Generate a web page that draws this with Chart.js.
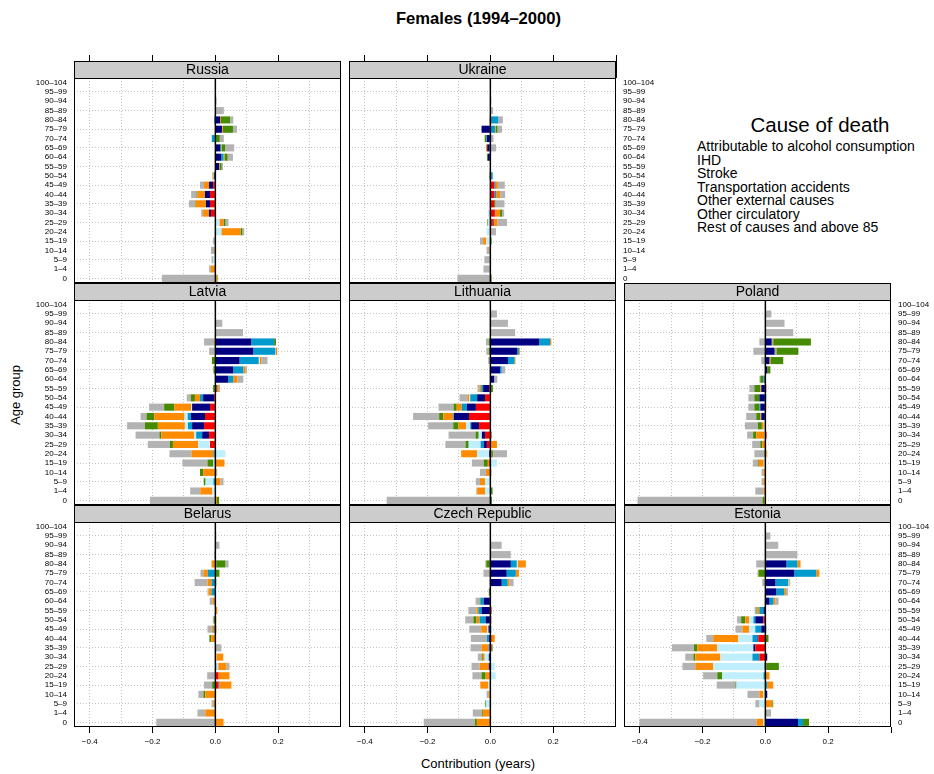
<!DOCTYPE html>
<html>
<head>
<meta charset="utf-8">
<script src="https://cdn.jsdelivr.net/npm/chart.js@4.4.1/dist/chart.umd.min.js"></script>
<style>
html,body{margin:0;padding:0;background:#fff;}
#page{position:relative;width:934px;height:774px;overflow:hidden;font-family:"Liberation Sans",Arial,Helvetica,sans-serif;color:#000;}
#page canvas{position:absolute;}
.txt{position:absolute;white-space:nowrap;line-height:1;}
</style>
</head>
<body>
<div id="page">
<div class="txt" style="left:0;width:957px;top:11px;text-align:center;font-weight:bold;font-size:16.6px;">Females (1994–2000)</div>
<div class="txt" style="left:700px;width:240px;top:115px;text-align:center;font-size:20.5px;">Cause of death</div>
<div class="txt" id="legendItems" style="left:697px;top:140px;font-size:14px;line-height:13.55px;"></div>
<div class="txt" style="left:15px;top:395px;font-size:13px;transform:translate(-50%,-50%) rotate(-90deg);">Age group</div>
<div class="txt" style="left:478px;top:763px;font-size:13px;transform:translate(-50%,-50%);">Contribution (years)</div>
</div>
<script>
// ---------------- DATA ----------------
const ageGroups = ["0","1–4","5–9","10–14","15–19","20–24","25–29","30–34","35–39","40–44","45–49","50–54","55–59","60–64","65–69","70–74","75–79","80–84","85–89","90–94","95–99","100–104"];
const causeNames = ["Attributable to alcohol consumption","IHD","Stroke","Transportation accidents","Other external causes","Other circulatory","Rest of causes and above 85"];
const causeColors = ["#FF0000","#000080","#009ACD","#BFEFFF","#FF8C00","#458B00","#B3B3B3"];
const countryNames = ["Russia","Ukraine","Latvia","Lithuania","Poland","Belarus","Czech Republic","Estonia"];
const xTickLabels = [-0.4,-0.2,0,0.2];

// Russia
const rus_alc  = [0,0,0,0,0,0,0,-0.014,-0.017,-0.017,-0.007,0,0,0,0,0,0,0,0,0,0,0];
const rus_ihd  = [0,0,0,0,0,0,0,-0.006,-0.013,-0.016,-0.013,-0.004,0.012,0.018,0.015,0,0.021,0.015,0,0,0,0];
const rus_str  = [0,0,0,0,0,0,0,0,0,0,0,0,0,0.008,0.003,-0.011,0,-0.004,0,0,0,0];
const rus_tra  = [0,0,-0.006,0,0,0.019,0.013,0,0,0,0,0,0,0,0,-0.002,0,0,0,0,0,0];
const rus_ext  = [0.005,-0.014,0,-0.004,0,0.061,0.013,-0.019,-0.033,-0.024,-0.016,-0.002,0.002,0.003,0.002,0,0.003,0.003,0,0,0,0];
const rus_circ = [0.002,0,0,0,0,0.006,0.006,0,-0.002,-0.003,0,0,0.006,0.010,0.011,0.014,0.032,0.029,0,0,0,0];
const rus_rest = [-0.170,-0.006,-0.006,-0.010,-0.007,0.006,0.010,-0.006,-0.019,-0.017,-0.013,-0.004,0.004,0.017,0.029,0.013,0.013,0.010,0.027,0.004,0,0];
// Ukraine
const ukr_alc  = [0,0,0,0,0,0,0.008,0.013,0.012,0.013,0.013,0,0,0,-0.002,0,0,0,0,0,0,0];
const ukr_ihd  = [0,0,0.001,0,0.002,0,0.002,0.002,0,0,0,0,0,-0.008,-0.008,-0.011,-0.028,0,0,0,0,0];
const ukr_str  = [0,0,0,0,0,0,0,0,0,0.006,0.004,0.007,0,0,0,-0.002,0.015,0.025,0,0,0,0];
const ukr_tra  = [0,0,0,0,-0.013,-0.012,-0.008,-0.008,-0.004,0,0,0,0,0,0,0,0,0,0,0,0,0];
const ukr_ext  = [0.002,0,0,-0.004,-0.010,0.004,0.012,0.016,0,0.012,0.007,0,0,0,-0.004,0,0.002,-0.003,0,0,0,0];
const ukr_circ = [0.002,0,0,0,0.002,0,-0.002,0.006,0.004,0,0,-0.003,0,-0.003,0,-0.005,0.006,0,0,0,0,0];
const ukr_rest = [-0.105,-0.022,-0.019,-0.008,-0.010,0.014,0.031,0.007,0.029,0.016,0.022,0.002,0,0,0.018,0.010,0.014,0.015,0.008,0.003,0,0];
// Latvia
const lva_alc  = [0,0,0,0,0,-0.002,-0.017,-0.020,-0.036,-0.033,-0.017,-0.004,0,0,0,0,0,0,0,0,0,0];
const lva_ihd  = [0,0,0,0,0,0,0,-0.022,-0.038,-0.045,-0.057,-0.035,0.004,0.041,0.057,0.077,0.121,0.114,0,0,0,0];
const lva_str  = [0,0,-0.006,0,0,-0.004,0,-0.019,-0.013,-0.010,0,-0.010,0,0.016,0.032,0.061,0.070,0.073,0,0,0,0];
const lva_tra  = [0,-0.010,-0.025,0.002,-0.006,0.032,-0.038,-0.006,-0.010,-0.010,-0.003,0,0,0,0,0.003,0.002,0,0,0,0,0];
const lva_ext  = [0.005,-0.038,0.016,-0.039,0.029,-0.070,-0.080,-0.105,-0.086,-0.096,-0.054,-0.016,0.007,0.013,0.006,0.006,0.004,-0.004,0,0,0,0];
const lva_circ = [0.007,0,-0.006,-0.010,-0.019,0,-0.010,-0.006,-0.041,-0.025,-0.032,-0.013,-0.007,0,-0.006,-0.011,0,0.006,0,0,0,0];
const lva_rest = [-0.208,-0.032,0.010,0.004,-0.080,-0.070,-0.070,-0.076,-0.057,-0.019,-0.048,-0.013,0.004,0.019,0.006,0.019,-0.020,-0.032,0.088,0.022,0,0];
// Lithuania
const ltu_alc  = [0,0,0,0,-0.004,0.003,-0.011,-0.017,-0.036,-0.068,-0.046,-0.017,-0.004,0,0,0,0,0,0,0,0,0];
const ltu_ihd  = [0,0,0,0,0,-0.004,-0.010,-0.010,-0.025,-0.048,-0.029,-0.025,-0.019,0.012,0.031,0.056,0.085,0.155,0,0,0,0];
const ltu_str  = [0,0,0,0,0,0,-0.010,0,-0.003,-0.002,-0.016,-0.022,-0.006,0,0.005,0.021,0.006,0.035,0,0,0,0];
const ltu_tra  = [0,-0.017,-0.017,0,0.021,-0.038,-0.038,-0.010,-0.013,0.004,0,-0.003,0,0,0,0,0,0,0,0,0,0];
const ltu_ext  = [0,-0.025,-0.016,-0.014,-0.004,-0.051,0.021,0.005,-0.025,-0.032,-0.016,-0.006,-0.006,0,0,0.003,0.003,0.004,0,0,0,0];
const ltu_circ = [0.005,0.007,0,0.003,-0.013,0.005,-0.010,-0.010,-0.016,-0.013,-0.010,0,0.008,0,-0.002,0,-0.005,-0.005,0,0,0,0];
const ltu_rest = [-0.330,-0.003,-0.013,-0.019,-0.038,0.045,-0.064,-0.086,-0.080,-0.083,-0.048,-0.025,-0.006,0.010,0.011,-0.007,-0.008,-0.009,0.079,0.056,0.021,0];
// Poland
const pol_alc  = [0,0,0,0,0,0,0,0.004,0,0,0,0,0.003,0,0,0,0,0,0,0,0,0];
const pol_ihd  = [0,0,0,0,0,0,0,0,0,-0.013,-0.016,-0.019,-0.013,-0.003,0.006,0.013,0.029,0.020,0,0,0,0];
const pol_str  = [0,0,0,0,0,0,0,0,0,0,-0.003,0.003,0,-0.003,0,0,0.003,0.002,0,0,0,0];
const pol_tra  = [0,0,0,0,-0.005,0.003,0.003,-0.003,-0.005,0,0,0,0,0,0,0,0,0,0,0,0,0];
const pol_ext  = [-0.003,-0.006,-0.006,-0.006,-0.016,0.003,-0.010,-0.026,-0.006,-0.003,0.003,0,-0.003,0,0,0.003,0.003,0.003,0,0,0,0];
const pol_circ = [-0.006,0,0,0,-0.003,-0.003,-0.006,-0.010,-0.013,-0.013,-0.016,-0.016,-0.019,-0.010,0.010,0.041,0.070,0.120,0,0,0,0];
const pol_rest = [-0.398,-0.026,-0.006,-0.006,-0.016,-0.032,-0.026,-0.019,-0.041,-0.032,-0.019,-0.019,-0.016,-0.003,0,-0.013,-0.038,-0.019,0.089,0.061,0.019,0];
// Belarus
const blr_alc  = [0,0,0,0,0.010,0.010,0,0,0,0,-0.003,0,0,0,0,0,0,0,0,0,0,0];
const blr_ihd  = [0,0,0,0,0,0,0,0,0,0,0,0,0,0,0,0,0,0,0,0,0,0];
const blr_str  = [0,0,0,0,0.003,0,0.003,0,0,0,-0.003,0,0,-0.002,-0.012,-0.012,-0.024,0.003,0,0,0,0];
const blr_tra  = [0,0,0,0.003,0,0,0.006,0.003,0,0,0,0,0,0,0,0,0,0,0,0,0,0];
const blr_ext  = [0.026,-0.032,-0.006,-0.032,0.038,0.035,0.026,0.022,0,-0.013,-0.006,0.003,0.006,-0.006,-0.010,-0.013,-0.013,-0.012,0,0,0,0];
const blr_circ = [0,0,0,-0.006,-0.010,0,0,0,0,-0.006,0.003,-0.005,0,0,0,0.003,0.013,0.029,0,0,0,0];
const blr_rest = [-0.188,-0.025,-0.006,-0.016,-0.026,-0.026,0.010,0,0.019,0,-0.013,-0.003,0,-0.010,-0.003,-0.041,-0.010,0.010,-0.004,0.013,0.003,0];
// Czech Republic
const cze_alc  = [-0.002,0,0,0,0,-0.002,0,0,0.004,0.004,0,0.003,0.004,0,0,0,0,0,0,0,0,0];
const cze_ihd  = [0,0,0,0,0.002,0,-0.005,-0.005,-0.003,-0.005,-0.006,-0.015,-0.028,-0.021,0,0.036,0.052,0.065,0,0,0,0];
const cze_str  = [0,0,0,0,0,0,0,0,-0.003,-0.006,0.003,-0.019,-0.010,-0.010,0,0.019,0.029,0.019,0,0,0,0];
const cze_tra  = [0,-0.002,-0.013,0,-0.006,0.017,0.014,-0.013,0,0,-0.004,0,0,0,0,0,0,0.003,0,0,0,0];
const cze_ext  = [-0.041,-0.022,0,-0.006,-0.026,-0.013,-0.029,-0.006,-0.022,0.010,-0.019,-0.010,-0.006,0,0,0.006,0.010,0.026,0,0,0,0];
const cze_circ = [-0.006,-0.003,-0.003,0,0,-0.013,0,-0.003,0.003,0,0,-0.010,0,-0.003,-0.005,-0.002,-0.003,-0.013,0,0,0,0];
const cze_rest = [-0.163,-0.029,0,-0.006,0,-0.029,-0.026,-0.013,-0.035,-0.051,-0.038,-0.026,-0.026,-0.013,0,0.013,-0.019,-0.003,0.065,0.036,0,0];
// Estonia
const est_alc  = [0,0,0,0,0,0,0.003,-0.019,-0.032,-0.022,0,-0.006,0,0,0,0,0,0,0,0,0,0];
const est_ihd  = [0.104,0,0,0.006,0,0,0,0.006,-0.006,-0.003,-0.013,-0.026,-0.006,0.013,0.035,0.032,0.092,0.067,0,0,0,0];
const est_str  = [0.016,0,0,0,0.006,-0.006,-0.003,-0.022,0,-0.016,-0.019,-0.006,-0.013,0.013,0.025,0.041,0.070,0.035,0,0,0,0];
const est_tra  = [-0.006,0,-0.019,-0.006,-0.092,-0.131,-0.163,-0.102,-0.115,-0.045,-0.019,-0.013,0,0,0,0.003,0,0,0,0,0,0];
const est_ext  = [-0.022,0,0.022,-0.013,0.019,0.013,-0.057,-0.080,-0.064,-0.080,-0.022,-0.013,-0.006,0.006,0.006,0.003,0.010,0.010,0,0,0,0];
const est_circ = [0.019,0.003,0.003,0,-0.003,-0.016,0.040,-0.006,-0.010,0.010,0.003,-0.013,-0.003,0,0,0,-0.022,0,0,0,0,0];
const est_rest = [-0.373,0.015,-0.013,-0.038,-0.060,-0.045,-0.041,-0.026,-0.070,-0.022,-0.022,-0.013,-0.006,0.010,0.006,-0.010,-0.003,-0.029,0.102,0.041,0.016,0];

const countrySeries = [
  [rus_alc,rus_ihd,rus_str,rus_tra,rus_ext,rus_circ,rus_rest],
  [ukr_alc,ukr_ihd,ukr_str,ukr_tra,ukr_ext,ukr_circ,ukr_rest],
  [lva_alc,lva_ihd,lva_str,lva_tra,lva_ext,lva_circ,lva_rest],
  [ltu_alc,ltu_ihd,ltu_str,ltu_tra,ltu_ext,ltu_circ,ltu_rest],
  [pol_alc,pol_ihd,pol_str,pol_tra,pol_ext,pol_circ,pol_rest],
  [blr_alc,blr_ihd,blr_str,blr_tra,blr_ext,blr_circ,blr_rest],
  [cze_alc,cze_ihd,cze_str,cze_tra,cze_ext,cze_circ,cze_rest],
  [est_alc,est_ihd,est_str,est_tra,est_ext,est_circ,est_rest]
];

// ---------------- LAYOUT ----------------
const panelLayout = [
  {col:0,row:0,left:true, right:false,top:true, bottom:false},
  {col:1,row:0,left:false,right:true, top:true, bottom:false},
  {col:0,row:1,left:true, right:false,top:false,bottom:false},
  {col:1,row:1,left:false,right:false,top:false,bottom:false},
  {col:2,row:1,left:false,right:true, top:false,bottom:false},
  {col:0,row:2,left:true, right:false,top:false,bottom:true},
  {col:1,row:2,left:false,right:false,top:false,bottom:true},
  {col:2,row:2,left:false,right:true, top:false,bottom:true}
];
const COL_X = [74,349,624];
const ROW_Y = [61,283,505];
const PLOT_W = 267, PLOT_H = 205, STRIP_H = 17;
const TOP_AX = 23, BOT_AX = 28, RIGHT_W = 44;
const X_MIN = -0.45, X_MAX = 0.4;
const GRID = "#c4c4c4", STRIP_FILL = "#cccccc", CLEAR = "rgba(0,0,0,0)";
const FONT = '"Liberation Sans", Arial, Helvetica, sans-serif';

Chart.defaults.font.family = FONT;
Chart.defaults.color = "#000";

document.getElementById("legendItems").innerHTML = causeNames.join("<br>");

function isMajor(v){ return Math.abs(v*5 - Math.round(v*5)) < 1e-6; }
function tickText(v){
  if (!xTickLabels.some(t => Math.abs(t - v) < 1e-6)) return "";
  if (Math.abs(v) < 1e-9) return "0.0";
  return (v < 0 ? "\u2212" : "") + Math.abs(v).toFixed(1);
}
function tickVal(ctx){ return ctx && ctx.tick ? ctx.tick.value : NaN; }
function noPad(s){ s.paddingLeft = 0; s.paddingRight = 0; s.paddingTop = 0; s.paddingBottom = 0; }

const page = document.getElementById("page");

countryNames.forEach((name, i) => {
  const L = panelLayout[i];
  const series = countrySeries[i];
  const plotLeft = COL_X[L.col];
  const plotTop = ROW_Y[L.row] + STRIP_H;
  const leftW = L.left ? plotLeft : 0;
  const rightW = L.right ? RIGHT_W : 0;
  const topH = L.top ? TOP_AX : STRIP_H;
  const botH = L.bottom ? BOT_AX : 0;
  const cx = plotLeft - leftW, cy = plotTop - topH;
  const w = leftW + PLOT_W + rightW, h = topH + PLOT_H + botH;
  const cv = document.createElement("canvas");
  cv.width = w; cv.height = h;
  cv.style.left = cx + "px"; cv.style.top = cy + "px";
  cv.style.width = w + "px"; cv.style.height = h + "px";
  page.appendChild(cv);

  const scales = {
    x: {
      type: "linear", position: "bottom", min: X_MIN, max: X_MAX, stacked: true,
      afterFit: s => { s.height = botH; noPad(s); },
      ticks: { display: L.bottom, stepSize: 0.1, includeBounds: false, autoSkip: false, maxRotation: 0, minRotation: 0, padding: 4,
               font: { size: 8 }, color: "#000", callback: v => tickText(v) },
      grid: { color: c => { const v = tickVal(c); return (Math.abs(v - X_MIN) < 1e-9 || Math.abs(v - X_MAX) < 1e-9) ? CLEAR : GRID; },
              lineWidth: 1, drawTicks: L.bottom, tickLength: 6, tickWidth: 1,
              tickColor: c => isMajor(tickVal(c)) ? "#000" : CLEAR },
      border: { display: false, dash: [1, 2] }
    },
    y: {
      type: "category", position: "left", reverse: true, stacked: true, offset: true,
      afterFit: s => { s.width = leftW; noPad(s); },
      ticks: { display: L.left, padding: 7, autoSkip: false, font: { size: 8 }, color: "#000" },
      grid: { offset: false, drawTicks: false, lineWidth: 1, color: c => (c.index % 2 === 0) ? GRID : CLEAR },
      border: { display: false, dash: [1, 2] }
    }
  };
  if (L.top) {
    scales.x2 = {
      type: "linear", position: "top", min: X_MIN, max: X_MAX,
      afterFit: s => { s.height = TOP_AX; noPad(s); },
      ticks: { display: false, stepSize: 0.1, includeBounds: false, autoSkip: false },
      grid: { drawOnChartArea: false, drawTicks: true, tickLength: TOP_AX, tickWidth: 1,
              tickColor: c => isMajor(tickVal(c)) ? "#000" : CLEAR },
      border: { display: false }
    };
  }
  if (L.right) {
    scales.y2 = {
      type: "category", position: "right", reverse: true, offset: true,
      afterFit: s => { s.width = rightW; noPad(s); },
      ticks: { display: true, padding: 7, autoSkip: false, font: { size: 8 }, color: "#000" },
      grid: { display: false, drawTicks: false },
      border: { display: false }
    };
  }

  const decor = {
    id: "decor" + i,
    afterDraw(chart) {
      const c = chart.ctx, a = chart.chartArea;
      const x0 = chart.scales.x.getPixelForValue(0);
      c.save();
      c.strokeStyle = "#000";
      c.lineWidth = 1.5;
      c.beginPath(); c.moveTo(x0, a.top); c.lineTo(x0, a.bottom); c.stroke();
      c.lineWidth = 1;
      c.strokeRect(Math.round(a.left) + 0.5, Math.round(a.top) + 0.5, Math.round(a.right - a.left) - 1, Math.round(a.bottom - a.top) - 1);
      const st = Math.round(a.top) - STRIP_H;
      c.fillStyle = STRIP_FILL;
      c.fillRect(Math.round(a.left), st, Math.round(a.right - a.left), STRIP_H);
      c.strokeRect(Math.round(a.left) + 0.5, st + 0.5, Math.round(a.right - a.left) - 1, STRIP_H);
      c.fillStyle = "#000";
      c.font = "14px " + FONT;
      c.textAlign = "center"; c.textBaseline = "middle";
      c.fillText(name, (a.left + a.right) / 2, st + STRIP_H / 2 + 1);
      c.restore();
    }
  };

  new Chart(cv, {
    type: "bar",
    data: {
      labels: ageGroups,
      datasets: causeNames.map((cn, k) => ({
        label: cn, data: series[k], backgroundColor: causeColors[k],
        borderWidth: 0, categoryPercentage: 1, barPercentage: 0.76,
        xAxisID: "x", yAxisID: "y"
      }))
    },
    options: {
      indexAxis: "y", responsive: false, maintainAspectRatio: false, animation: false,
      devicePixelRatio: 1, events: [],
      layout: { padding: { top: L.top ? 0 : STRIP_H, left: 0, right: 0, bottom: 0 } },
      plugins: { legend: { display: false }, tooltip: { enabled: false }, title: { display: false } },
      scales: scales
    },
    plugins: [decor]
  });
});
</script>
</body>
</html>
